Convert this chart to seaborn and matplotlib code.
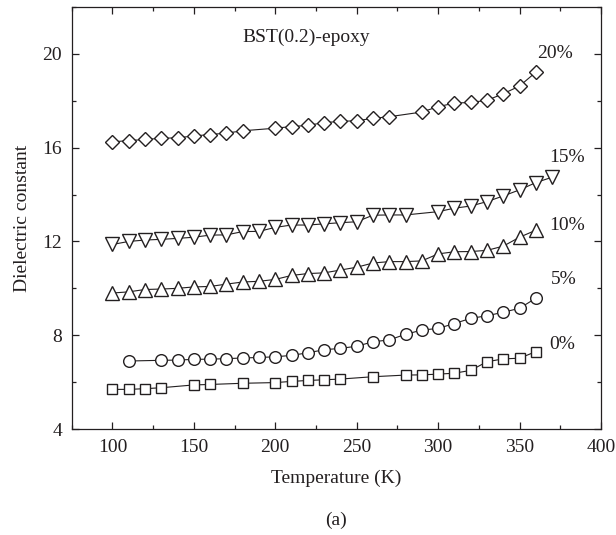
import matplotlib
matplotlib.use("Agg")
import matplotlib.pyplot as plt
import seaborn as sns
from matplotlib.ticker import MultipleLocator

# Temperature grids (K) and dielectric constant for each BST loading
t_0 = [100, 110, 120, 130, 150, 160, 180, 200, 210, 220, 230, 240, 260,
       280, 290, 300, 310, 320, 330, 340, 350, 360]
eps_0 = [5.69, 5.69, 5.72, 5.76, 5.88, 5.90, 5.95, 5.98, 6.03, 6.07, 6.10, 6.13, 6.23,
         6.30, 6.31, 6.34, 6.38, 6.50, 6.87, 6.99, 7.02, 7.30]

t_5 = [110, 130, 140, 150, 160, 170, 180, 190, 200, 210, 220, 230, 240, 250,
       260, 270, 280, 290, 300, 310, 320, 330, 340, 350, 360]
eps_5 = [6.90, 6.93, 6.94, 6.97, 6.98, 7.00, 7.03, 7.05, 7.08, 7.14, 7.25, 7.38, 7.44, 7.53,
         7.72, 7.80, 8.04, 8.22, 8.29, 8.50, 8.72, 8.83, 8.98, 9.15, 9.58]

t_10 = [100, 110, 120, 130, 140, 150, 160, 170, 180, 190, 200, 210, 220, 230,
        240, 250, 260, 270, 280, 290, 300, 310, 320, 330, 340, 350, 360]
eps_10 = [9.80, 9.85, 9.95, 9.97, 10.00, 10.06, 10.08, 10.18, 10.27, 10.30, 10.38, 10.55, 10.63, 10.66,
          10.78, 10.90, 11.08, 11.14, 11.14, 11.17, 11.47, 11.56, 11.57, 11.62, 11.80, 12.18, 12.48]

t_15 = [100, 110, 120, 130, 140, 150, 160, 170, 180, 190, 200, 210, 220, 230,
        240, 250, 260, 270, 280, 300, 310, 320, 330, 340, 350, 360, 370]
eps_15 = [11.87, 12.00, 12.06, 12.09, 12.13, 12.18, 12.27, 12.28, 12.42, 12.43, 12.60, 12.70, 12.70, 12.75,
          12.80, 12.84, 13.12, 13.13, 13.13, 13.27, 13.42, 13.51, 13.70, 13.94, 14.20, 14.51, 14.74]

t_20 = [100, 110, 120, 130, 140, 150, 160, 170, 180, 200, 210, 220, 230, 240,
        250, 260, 270, 290, 300, 310, 320, 330, 340, 350, 360]
eps_20 = [16.25, 16.30, 16.35, 16.40, 16.42, 16.50, 16.56, 16.62, 16.72, 16.83, 16.90, 16.95, 17.07, 17.12,
          17.15, 17.25, 17.32, 17.52, 17.75, 17.90, 17.93, 18.02, 18.30, 18.63, 19.22]

series_labels = ["0%", "5%", "10%", "15%", "20%"]
label_pos = [(376, 7.61), (377, 10.36), (379, 12.66), (379, 15.56), (372, 20.03)]

ink = "#231f20"

sns.set_style("ticks")
plt.rcParams["font.family"] = ["Liberation Serif", "DejaVu Serif"]
plt.rcParams["font.size"] = 14

fig = plt.figure(figsize=(6.16, 5.35), dpi=100)
ax = fig.add_axes([71.7 / 616, 106 / 535, 529.3 / 616, 422 / 535])

data = [(t_0, eps_0, "s", 7.9), (t_5, eps_5, "o", 8.4), (t_10, eps_10, "^", 9.5),
        (t_15, eps_15, "v", 9.5), (t_20, eps_20, "D", 7.6)]
for t, eps, m, ms in data:
    sns.lineplot(x=t, y=eps, ax=ax, color=ink, linewidth=0.8, marker=m,
                 markersize=ms, markerfacecolor="white", markeredgecolor=ink,
                 markeredgewidth=1.0, errorbar=None, legend=False)

for lab, (x, y) in zip(series_labels, label_pos):
    ax.text(x, y, lab, ha="center", va="center", color=ink, fontsize=14)
ax.text(219, 20.71, "BST(0.2)-epoxy", ha="center", va="center", color=ink, fontsize=14)

ax.set_xlim(75, 400)
ax.set_ylim(4, 22)
ax.xaxis.set_major_locator(MultipleLocator(50))
ax.xaxis.set_minor_locator(MultipleLocator(25))
ax.yaxis.set_major_locator(MultipleLocator(4))
ax.yaxis.set_minor_locator(MultipleLocator(2))
ax.tick_params(which="both", direction="in", top=True, right=True, colors=ink,
               labelsize=14, pad=7, width=0.9)
ax.tick_params(which="major", length=5)
ax.tick_params(which="minor", length=3)
for s in ax.spines.values():
    s.set_color(ink)
    s.set_linewidth(0.9)

ax.set_xlabel("Temperature (K)", color=ink, fontsize=14, labelpad=10)
ax.set_ylabel("Dielectric constant", color=ink, fontsize=14, labelpad=8)
fig.text(336 / 616, 1 - 520 / 535, "(a)", ha="center", va="center", color=ink, fontsize=14)

fig.savefig("out.png", dpi=100)
